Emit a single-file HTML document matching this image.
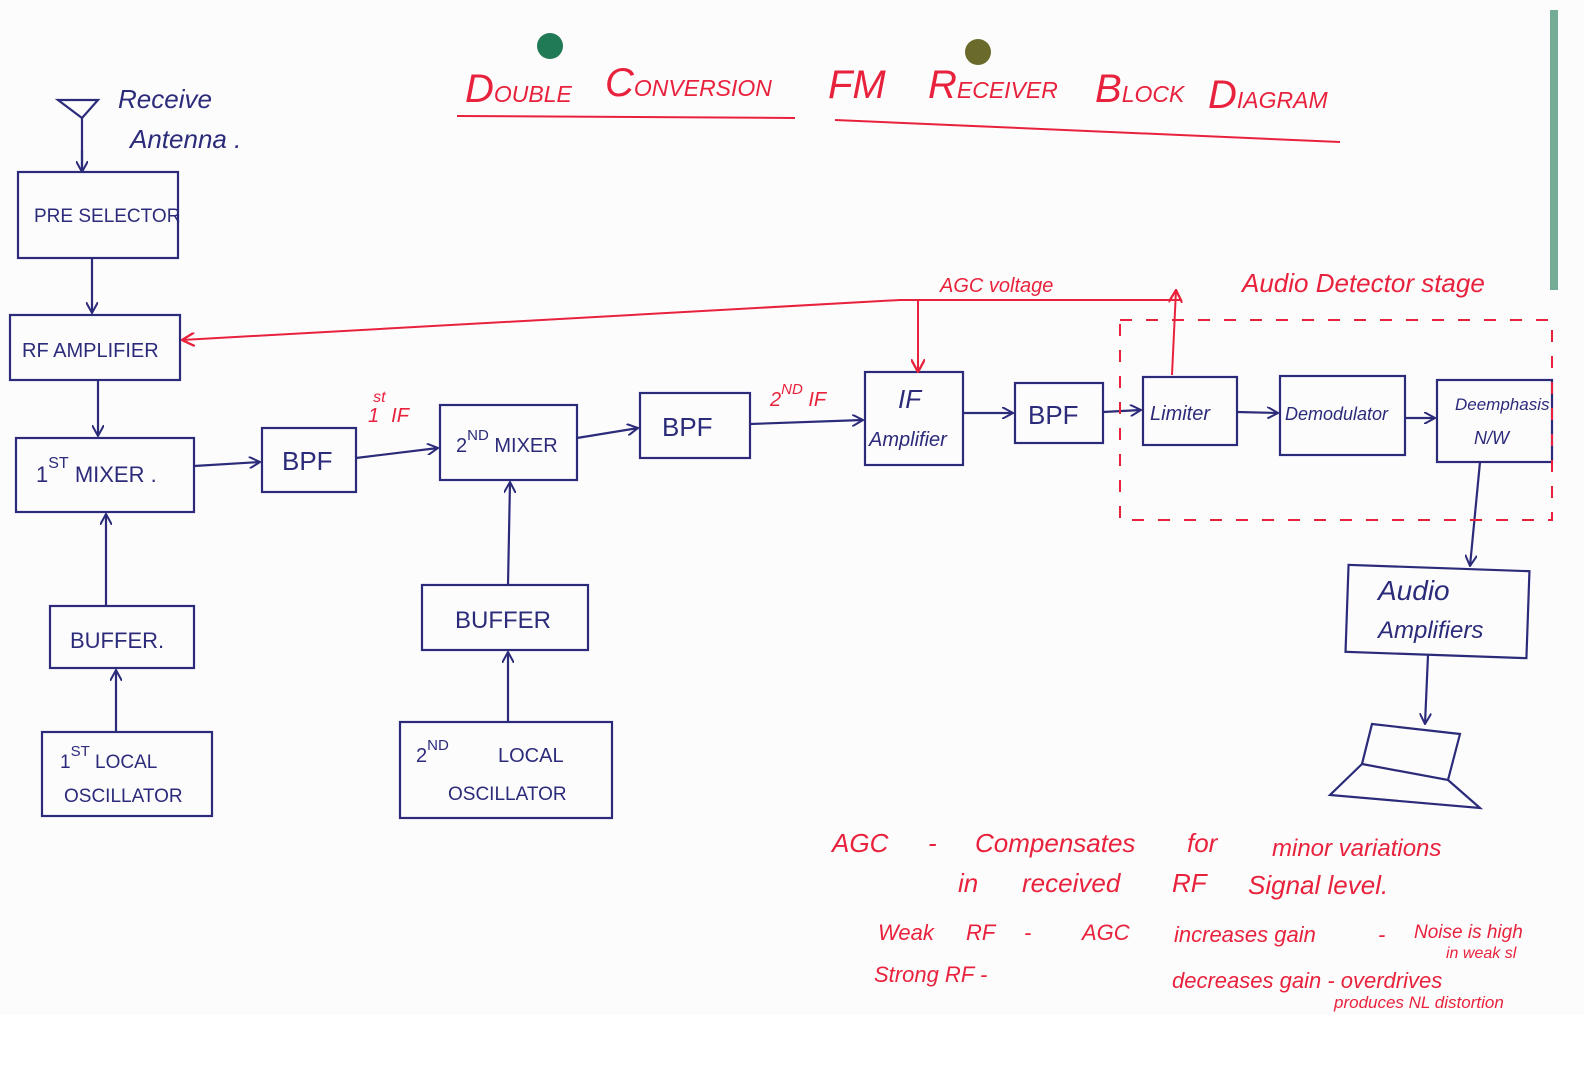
<!DOCTYPE html>
<html><head><meta charset="utf-8"><style>
html,body{margin:0;padding:0;background:#fff}
svg{display:block}
text{font-family:"Liberation Sans",sans-serif}
.b{fill:none;stroke:#2b2b7a;stroke-width:2.2}
.r{fill:none;stroke:#e8223c;stroke-width:2}
.bt{fill:#2b2b7a}
.rt{fill:#e8223c;font-style:italic}
</style></head><body>
<svg width="1584" height="1082" viewBox="0 0 1584 1082" xmlns="http://www.w3.org/2000/svg">
<defs>
<marker id="ab" viewBox="0 0 12 12" refX="11" refY="6" markerWidth="12" markerHeight="12" orient="auto" markerUnits="userSpaceOnUse"><path d="M0,0 L11,6 L0,12" fill="none" stroke="#2b2b7a" stroke-width="2"/></marker>
<marker id="ar" viewBox="0 0 12 12" refX="11" refY="6" markerWidth="14" markerHeight="14" orient="auto" markerUnits="userSpaceOnUse"><path d="M0,0 L11,6 L0,12" fill="none" stroke="#e8223c" stroke-width="2"/></marker>
</defs>
<rect x="0" y="0" width="1584" height="1015" fill="#fdfcfd"/>
<rect x="1550" y="10" width="8" height="280" fill="#3a8a6a" opacity="0.7"/>
<circle cx="550" cy="46" r="13" fill="#1f7a55"/>
<circle cx="978" cy="52" r="13" fill="#6a6a2a"/>

<text x="465" y="102" class="rt" font-size="40">D<tspan font-size="23">OUBLE</tspan></text>
<text x="605" y="96" class="rt" font-size="40">C<tspan font-size="23">ONVERSION</tspan></text>
<text x="828" y="98" class="rt" font-size="40">FM</text>
<text x="928" y="98" class="rt" font-size="40">R<tspan font-size="23">ECEIVER</tspan></text>
<text x="1095" y="102" class="rt" font-size="40">B<tspan font-size="23">LOCK</tspan></text>
<text x="1208" y="108" class="rt" font-size="40">D<tspan font-size="23">IAGRAM</tspan></text>
<path d="M457 116 L795 118 M835 120 L1340 142" class="r" stroke-width="1.5"/>

<path d="M58 100 L98 100 L82 118 Z M82 118 L82 172" class="b"/>
<path d="M82 150 L82 172" class="b" marker-end="url(#ab)"/>
<text x="118" y="108" class="bt" font-style="italic" font-size="26">Receive</text>
<text x="130" y="148" class="bt" font-style="italic" font-size="26">Antenna .</text>

<rect x="18" y="172" width="160" height="86" class="b"/>
<text x="34" y="222" class="bt" font-size="19">PRE SELECTOR</text>
<rect x="10" y="315" width="170" height="65" class="b"/>
<text x="22" y="357" class="bt" font-size="20">RF AMPLIFIER</text>
<rect x="16" y="438" width="178" height="74" class="b"/>
<text x="36" y="482" class="bt" font-size="22">1<tspan dy="-14" font-size="16">ST</tspan><tspan dy="14"> MIXER .</tspan></text>
<rect x="50" y="606" width="144" height="62" class="b"/>
<text x="70" y="648" class="bt" font-size="22">BUFFER.</text>
<rect x="42" y="732" width="170" height="84" class="b"/>
<text x="60" y="768" class="bt" font-size="19">1<tspan dy="-12" font-size="15">ST</tspan><tspan dy="12"> LOCAL</tspan></text>
<text x="64" y="802" class="bt" font-size="19">OSCILLATOR</text>

<rect x="262" y="428" width="94" height="64" class="b"/>
<text x="282" y="470" class="bt" font-size="26">BPF</text>
<rect x="440" y="405" width="137" height="75" class="b"/>
<text x="456" y="452" class="bt" font-size="20">2<tspan dy="-12" font-size="15">ND</tspan><tspan dy="12"> MIXER</tspan></text>
<rect x="422" y="585" width="166" height="65" class="b"/>
<text x="455" y="628" class="bt" font-size="24">BUFFER</text>
<rect x="400" y="722" width="212" height="96" class="b"/>
<text x="416" y="762" class="bt" font-size="20">2<tspan dy="-12" font-size="15">ND</tspan></text>
<text x="498" y="762" class="bt" font-size="20">LOCAL</text>
<text x="448" y="800" class="bt" font-size="19">OSCILLATOR</text>

<rect x="640" y="393" width="110" height="65" class="b"/>
<text x="662" y="436" class="bt" font-size="26">BPF</text>
<rect x="865" y="372" width="98" height="93" class="b"/>
<text x="898" y="408" class="bt" font-size="26" font-style="italic">IF</text>
<text x="869" y="446" class="bt" font-size="20" font-style="italic">Amplifier</text>
<rect x="1015" y="383" width="88" height="60" class="b"/>
<text x="1028" y="424" class="bt" font-size="26">BPF</text>
<rect x="1143" y="377" width="94" height="68" class="b"/>
<text x="1150" y="420" class="bt" font-size="20" font-style="italic">Limiter</text>
<rect x="1280" y="376" width="125" height="79" class="b"/>
<text x="1285" y="420" class="bt" font-size="18" font-style="italic">Demodulator</text>
<rect x="1437" y="380" width="115" height="82" class="b"/>
<text x="1455" y="410" class="bt" font-size="17" font-style="italic">Deemphasis</text>
<text x="1474" y="444" class="bt" font-size="18" font-style="italic">N/W</text>
<rect x="1347" y="568" width="181" height="87" class="b" transform="rotate(2 1437 611)"/>
<text x="1378" y="600" class="bt" font-size="28" font-style="italic">Audio</text>
<text x="1378" y="638" class="bt" font-size="24" font-style="italic">Amplifiers</text>

<path d="M1372 724 L1460 734 L1448 780 L1362 764 Z M1362 764 L1330 795 L1480 808 L1448 780" class="b" stroke-width="2.6"/>

<path d="M92 258 L92 313" class="b" marker-end="url(#ab)"/>
<path d="M98 380 L98 436" class="b" marker-end="url(#ab)"/>
<path d="M106 606 L106 514" class="b" marker-end="url(#ab)"/>
<path d="M116 732 L116 670" class="b" marker-end="url(#ab)"/>
<path d="M194 466 L260 462" class="b" marker-end="url(#ab)"/>
<path d="M356 458 L438 448" class="b" marker-end="url(#ab)"/>
<path d="M508 585 L510 482" class="b" marker-end="url(#ab)"/>
<path d="M508 722 L508 652" class="b" marker-end="url(#ab)"/>
<path d="M577 438 L638 428" class="b" marker-end="url(#ab)"/>
<path d="M750 424 L863 420" class="b" marker-end="url(#ab)"/>
<path d="M963 413 L1013 413" class="b" marker-end="url(#ab)"/>
<path d="M1103 412 L1141 410" class="b" marker-end="url(#ab)"/>
<path d="M1237 412 L1278 413" class="b" marker-end="url(#ab)"/>
<path d="M1405 418 L1435 418" class="b" marker-end="url(#ab)"/>
<path d="M1480 462 L1470 566" class="b" marker-end="url(#ab)"/>
<path d="M1428 655 L1425 724" class="b" marker-end="url(#ab)"/>

<text x="368" y="422" class="rt" font-size="20" font-style="normal">1<tspan dy="-20" dx="-6" font-size="16">st</tspan><tspan dy="20"> IF</tspan></text>
<text x="770" y="406" class="rt" font-size="20" font-style="normal">2<tspan dy="-12" font-size="15">ND</tspan><tspan dy="12"> IF</tspan></text>

<path d="M1180 300 L900 300 L182 340" class="r" marker-end="url(#ar)"/>
<path d="M918 300 L918 372" class="r" marker-end="url(#ar)"/>
<path d="M1172 375 L1176 290" class="r" marker-end="url(#ar)"/>
<text x="940" y="292" class="rt" font-size="20">AGC voltage</text>
<text x="1242" y="292" class="rt" font-size="26">Audio Detector stage</text>
<rect x="1120" y="320" width="432" height="200" class="r" stroke-dasharray="12 14" stroke-width="1.5"/>

<text x="832" y="852" class="rt" font-size="26">AGC</text>
<text x="928" y="852" class="rt" font-size="26">-</text>
<text x="975" y="852" class="rt" font-size="26">Compensates</text>
<text x="1187" y="852" class="rt" font-size="26">for</text>
<text x="1272" y="856" class="rt" font-size="24">minor variations</text>
<text x="958" y="892" class="rt" font-size="26">in</text>
<text x="1022" y="892" class="rt" font-size="26">received</text>
<text x="1172" y="892" class="rt" font-size="26">RF</text>
<text x="1248" y="894" class="rt" font-size="26">Signal level.</text>
<text x="878" y="940" class="rt" font-size="22">Weak</text>
<text x="966" y="940" class="rt" font-size="22">RF</text>
<text x="1024" y="940" class="rt" font-size="22">-</text>
<text x="1082" y="940" class="rt" font-size="22">AGC</text>
<text x="1174" y="942" class="rt" font-size="22">increases gain</text>
<text x="1378" y="942" class="rt" font-size="22">-</text>
<text x="1414" y="938" class="rt" font-size="19">Noise is high</text>
<text x="1446" y="958" class="rt" font-size="16">in weak sl</text>
<text x="874" y="982" class="rt" font-size="22">Strong RF -</text>
<text x="1172" y="988" class="rt" font-size="22">decreases gain - overdrives</text>
<text x="1334" y="1008" class="rt" font-size="17">produces NL distortion</text>
</svg>
</body></html>
